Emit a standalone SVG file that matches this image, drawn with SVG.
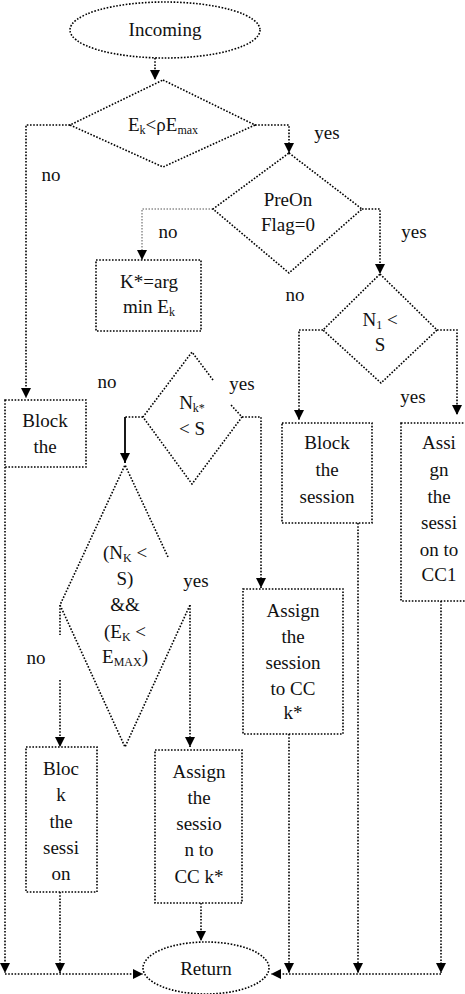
<svg xmlns="http://www.w3.org/2000/svg" width="465" height="994" viewBox="0 0 465 994">
<style>
.s{fill:#fff;stroke:#000;stroke-width:1.6;stroke-dasharray:1.6 1.6}
.c{fill:none;stroke:#000;stroke-width:1.6;stroke-dasharray:1.6 1.6}
.lt{fill:none;stroke:#555;stroke-width:1;stroke-dasharray:1.5 1.5}
.solid{fill:none;stroke:#000;stroke-width:1.8}
text{font-family:"Liberation Serif","Times New Roman",serif;font-size:19px;fill:#111;text-anchor:middle}
.sub{font-size:12px}
</style>
<defs>
<marker id="a" markerUnits="userSpaceOnUse" markerWidth="10" markerHeight="10" refX="10" refY="5" orient="auto" viewBox="0 0 10 10">
<path d="M0,0 L10,5 L0,10 z" fill="#000"/>
</marker>
</defs>
<rect width="465" height="994" fill="#fff"/>
<g id="connectors">
<path class="c" d="M155,58 V80" marker-end="url(#a)"/>
<path class="c" d="M70,125 H26 V398" marker-end="url(#a)"/>
<path class="c" d="M255,125 H289 V153" marker-end="url(#a)"/>
<path class="lt" d="M213,209 H142 V260" marker-end="url(#a)"/>
<path class="c" d="M362,209 H380 V274" marker-end="url(#a)"/>
<path class="c" d="M323,330 H299 V420" marker-end="url(#a)"/>
<path class="c" d="M437,330 H457 V415" marker-end="url(#a)"/>
<path class="c" d="M5,467 V973" marker-end="url(#a)"/>
<path class="c" d="M143,417 H125"/>
<path class="solid" d="M125,417 V463" marker-end="url(#a)"/>
<path class="c" d="M242,417 H261 V588" marker-end="url(#a)"/>
<path class="c" d="M60,605 V635"/>
<path class="c" d="M60,680 V747" marker-end="url(#a)"/>
<path class="c" d="M190,605 V747" marker-end="url(#a)"/>
<path class="c" d="M60,892 V973" marker-end="url(#a)"/>
<path class="c" d="M201,903 V941" marker-end="url(#a)"/>
<path class="c" d="M289,734 V973" marker-end="url(#a)"/>
<path class="c" d="M358,523 V973" marker-end="url(#a)"/>
<path class="c" d="M441,601 V973" marker-end="url(#a)"/>
<path class="c" d="M5,974 H143" marker-end="url(#a)"/>
<path class="c" d="M441,974 H271" marker-end="url(#a)"/>
</g>
<g id="labels">
<text x="327" y="139">yes</text>
<text x="51" y="181">no</text>
<text x="168" y="238">no</text>
<text x="414" y="238">yes</text>
<text x="295" y="301">no</text>
<text x="107" y="388">no</text>
<text x="242" y="390">yes</text>
<text x="413" y="403">yes</text>
<text x="196" y="587">yes</text>
<text x="36" y="664">no</text>
</g>
<g id="incoming">
<ellipse class="s" cx="165" cy="30" rx="95" ry="28"/>
<text x="165" y="36">Incoming</text>
</g>
<g id="d1">
<polygon class="s" points="163,80 255,125 163,167 70,125"/>
<text x="163" y="131" fill="#333">E<tspan class="sub" dy="3">k</tspan><tspan dy="-3">&lt;ρE</tspan><tspan class="sub" dy="3">max</tspan></text>
</g>
<g id="d2">
<polygon class="s" points="289,153 362,209 289,273 213,209"/>
<text x="288" y="206">PreOn</text>
<text x="288" y="231">Flag=0</text>
</g>
<g id="kstar">
<rect class="s" x="96" y="260" width="105" height="71"/>
<text x="149" y="288">K*=arg</text>
<text x="149" y="313">min E<tspan class="sub" dy="3">k</tspan></text>
</g>
<g id="d3">
<polygon class="s" points="380,274 437,330 381,383 323,330"/>
<text x="380" y="326">N<tspan class="sub" dy="3">1</tspan><tspan dy="-3"> &lt;</tspan></text>
<text x="380" y="351">S</text>
</g>
<g id="blockthe">
<rect class="s" x="5" y="400" width="81" height="67"/>
<text x="45" y="427">Block</text>
<text x="45" y="453">the</text>
</g>
<g id="d4">
<path class="c" d="M213,380 L192,352 L143,417 L192,484 L242,417 L231,405"/>
<text x="192" y="409">N<tspan class="sub" dy="3">k*</tspan></text>
<text x="192" y="435">&lt; S</text>
</g>
<g id="blocksession">
<rect class="s" x="282" y="423" width="90" height="100"/>
<text x="327" y="449">Block</text>
<text x="327" y="476">the</text>
<text x="327" y="503">session</text>
</g>
<g id="assigncc1">
<rect class="s" x="401" y="423" width="66" height="178"/>
<text x="439" y="449">Assi</text>
<text x="439" y="476">gn</text>
<text x="439" y="503">the</text>
<text x="439" y="529">sessi</text>
<text x="439" y="556">on to</text>
<text x="439" y="581">CC1</text>
</g>
<g id="d5">
<path class="c" d="M168,557 L125,465 L60,605 L125,747 L190,605"/>
<text x="125" y="559">(N<tspan class="sub" dy="3">K</tspan><tspan dy="-3"> &lt;</tspan></text>
<text x="125" y="585">S)</text>
<text x="125" y="611">&amp;&amp;</text>
<text x="125" y="638">(E<tspan class="sub" dy="3">K</tspan><tspan dy="-3"> &lt;</tspan></text>
<text x="125" y="663">E<tspan class="sub" dy="3">MAX</tspan><tspan dy="-3">)</tspan></text>
</g>
<g id="assignckk">
<rect class="s" x="243" y="589" width="100" height="145"/>
<text x="293" y="617">Assign</text>
<text x="293" y="643">the</text>
<text x="293" y="669">session</text>
<text x="293" y="695">to CC</text>
<text x="293" y="719">k*</text>
</g>
<g id="bloc">
<rect class="s" x="26" y="747" width="71" height="145"/>
<text x="61" y="775">Bloc</text>
<text x="61" y="801">k</text>
<text x="61" y="828">the</text>
<text x="61" y="854">sessi</text>
<text x="61" y="880">on</text>
</g>
<g id="assignbottom">
<rect class="s" x="155" y="750" width="87" height="153"/>
<text x="199" y="778">Assign</text>
<text x="199" y="804">the</text>
<text x="199" y="830">sessio</text>
<text x="199" y="856">n to</text>
<text x="199" y="883">CC k*</text>
</g>
<g id="return">
<ellipse class="s" cx="206" cy="968" rx="63" ry="26"/>
<text x="206" y="975">Return</text>
</g>
</svg>
